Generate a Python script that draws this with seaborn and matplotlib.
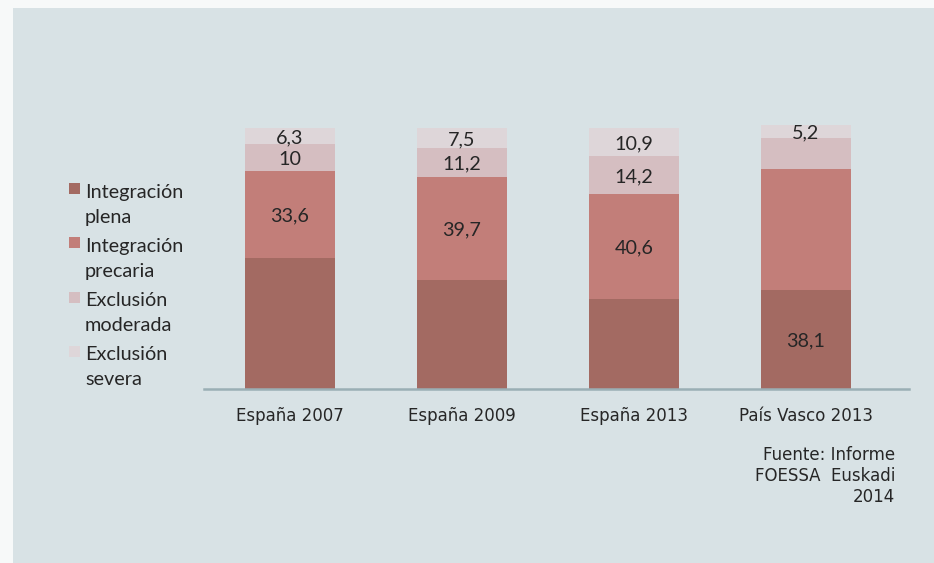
import matplotlib
matplotlib.use("Agg")
import matplotlib.pyplot as plt
from matplotlib.patches import Rectangle
import seaborn as sns
import numpy as np

# ---- data ----
categories = ["España 2007", "España 2009", "España 2013", "País Vasco 2013"]
series = ["Integración\nplena", "Integración\nprecaria", "Exclusión\nmoderada", "Exclusión\nsevera"]
plena = [50.1, 41.6, 34.3, 38.1]
precaria = [33.6, 39.7, 40.6, 46.2]
moderada = [10.0, 11.2, 14.2, 11.7]
severa = [6.3, 7.5, 10.9, 5.2]
labels_plena = ["", "", "", "38,1"]
labels_precaria = ["33,6", "39,7", "40,6", ""]
labels_moderada = ["10", "11,2", "14,2", ""]
labels_severa = ["6,3", "7,5", "10,9", "5,2"]
source_text = "Fuente: Informe\nFOESSA  Euskadi\n2014"

colors = ["#A36A62", "#C27E79", "#D5BEC1", "#DED6D9"]
panel_bg = "#D8E2E5"
outer_bg = "#F7F9F9"
text_col = "#262626"

sns.set_theme(style="white")
plt.rcParams["font.family"] = ["DejaVu Sans"]

W, H = 934, 563
fig = plt.figure(figsize=(W / 100, H / 100), dpi=100, facecolor=outer_bg)
fig.add_artist(Rectangle((13 / W, 0), 1 - 13 / W, (H - 8) / H, transform=fig.transFigure,
                         facecolor=panel_bg, edgecolor="none", zorder=-10))

ax = fig.add_axes([204 / W, (H - 389) / H, (909 - 204) / W, (389 - 115) / H])
ax.set_facecolor("none")

layers = [plena, precaria, moderada, severa]
layer_labels = [labels_plena, labels_precaria, labels_moderada, labels_severa]
cum = np.cumsum(np.array(layers), axis=0)

# draw cumulative bars from top layer down so that stacking appears
for i in range(len(layers) - 1, -1, -1):
    sns.barplot(x=categories, y=cum[i], color=colors[i], saturation=1, width=0.52,
                linewidth=0, ax=ax, order=categories)

# data labels at segment centres
for i in range(len(layers)):
    bottoms = cum[i] - np.array(layers[i])
    for j, lab in enumerate(layer_labels[i]):
        if lab:
            ax.text(j, bottoms[j] + layers[i][j] / 2 - 0.6, lab, ha="center", va="center",
                    fontsize=14.2, family=["Lato", "DejaVu Sans"], color=text_col)

ax.set_xlim(-0.5, 3.6)
ax.set_ylim(0, 105)
ax.set_yticks([])
ax.set_xlabel("")
ax.set_ylabel("")
for s in ["top", "left", "right"]:
    ax.spines[s].set_visible(False)
ax.spines["bottom"].set_color("#9AAFB5")
ax.spines["bottom"].set_linewidth(1.8)
ax.tick_params(axis="x", length=0, pad=13, labelsize=12, labelcolor=text_col)

# legend (manual, first line aligned with square)
leg_top = 183
step = 54.3
for k, name in enumerate(series):
    top = leg_top + k * step
    fig.add_artist(Rectangle((69 / W, 1 - (top + 11) / H), 11 / W, 11 / H,
                             transform=fig.transFigure, facecolor=colors[k], edgecolor="none"))
    for li, line in enumerate(name.split("\n")):
        fig.text(85 / W, 1 - (top + 9 + li * 25) / H, line, ha="left", va="center",
                 fontsize=14.3, family=["Lato", "DejaVu Sans"], color=text_col)

fig.text(895 / W, 1 - 476 / H, source_text, ha="right", va="center", multialignment="right",
         fontsize=12, color=text_col, linespacing=1.2)

fig.savefig("out.png", dpi=100, facecolor=outer_bg)
